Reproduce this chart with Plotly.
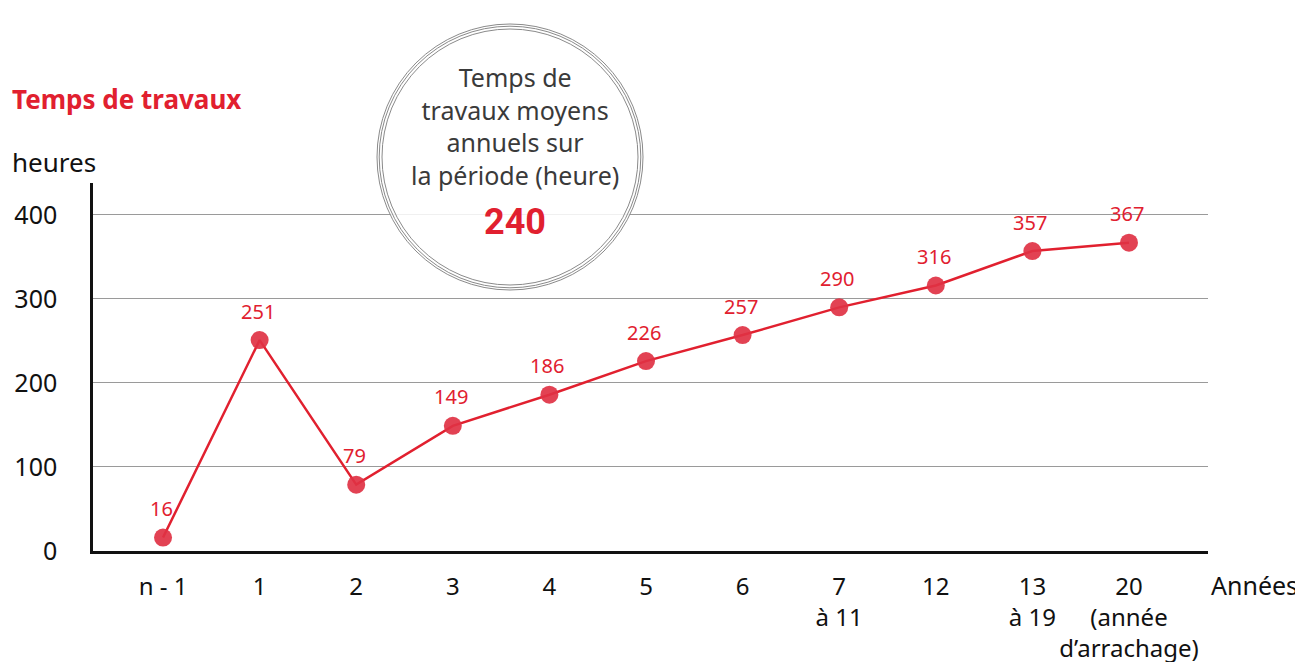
import plotly.graph_objects as go

categories = ["n - 1", "1", "2", "3", "4", "5", "6", "7<br>à 11", "12", "13<br>à 19", "20<br>(année<br>d’arrachage)"]
hours = [16, 251, 79, 149, 186, 226, 257, 290, 316, 357, 367]
y_ticks = [0, 100, 200, 300, 400]
average_hours = 240

RED = "#E1202F"
FONT = "Noto Sans"

OFF = 8  # page offset of the figure inside the browser window
L, R, T, B = 93 - OFF, 1208 - OFF, 183 - OFF, 551 - OFF
PW, PH = R - L, B - T


def px(x):
    return (x - OFF - L) / PW


def py(y):
    return (B - (y - OFF)) / PH


xpos = list(range(len(categories)))

fig = go.Figure()
fig.add_trace(go.Scatter(
    x=xpos, y=hours, mode="lines+markers",
    line=dict(color=RED, width=2.5),
    marker=dict(size=18, color="rgba(224,50,68,0.92)"),
    hoverinfo="skip", showlegend=False,
))

for xv, yv in zip(xpos, hours):
    fig.add_annotation(x=xv, y=yv, text=str(yv), showarrow=False,
                       yshift=29, xshift=-2,
                       font=dict(family=FONT, size=20, color=RED))

# Circle with average
for i, inset in enumerate([0, 2.2, 5]):
    fig.add_shape(type="circle", xref="paper", yref="paper",
                  x0=px(377 + inset), x1=px(643 - inset),
                  y0=py(290 - inset), y1=py(24 + inset),
                  line=dict(color="#8a8a8a", width=1),
                  fillcolor="rgba(255,255,255,0.85)" if i == 0 else "rgba(0,0,0,0)",
                  layer="above")

circle_text = "Temps de<br>travaux moyens<br>annuels sur<br>la période (heure)"
fig.add_annotation(xref="paper", yref="paper", x=px(515), y=py(126),
                   xanchor="center", yanchor="middle",
                   text=circle_text, showarrow=False,
                   font=dict(family=FONT, size=25, color="#3a3a3a"))
fig.add_annotation(xref="paper", yref="paper", x=px(515), y=py(222),
                   xanchor="center", yanchor="middle",
                   text="<b>%d</b>" % average_hours, showarrow=False,
                   font=dict(family="Liberation Sans Narrow, Roboto", size=36, color=RED))

fig.add_annotation(xref="paper", yref="paper", x=px(10), y=py(99),
                   xanchor="left", yanchor="middle", text="<b>Temps de travaux</b>", showarrow=False,
                   font=dict(family=FONT, size=26, color=RED))
fig.add_annotation(xref="paper", yref="paper", x=px(10), y=py(162),
                   xanchor="left", yanchor="middle", text="heures", showarrow=False,
                   font=dict(family=FONT, size=26, color="#111"))
fig.add_annotation(xref="paper", yref="paper", x=px(1300), y=py(585),
                   xanchor="right", yanchor="middle", text="Années", showarrow=False,
                   font=dict(family=FONT, size=25, color="#111"))

fig.update_layout(
    width=1303, height=662,
    margin=dict(l=L, r=1303 - R, t=T, b=662 - B, autoexpand=False),
    plot_bgcolor="white", paper_bgcolor="white",
    font=dict(family=FONT, size=25, color="#111"),
    xaxis=dict(
        range=[-0.725, 10.818], tickmode="array", tickvals=xpos, ticktext=categories,
        showgrid=False, zeroline=False, showline=True, linecolor="#111", linewidth=2.5,
        ticks="", tickangle=0, ticklabelstandoff=12,
        tickfont=dict(family=FONT, size=24, color="#111"),
        fixedrange=True, automargin=False,
    ),
    yaxis=dict(
        range=[0, 438], tickmode="array", tickvals=y_ticks,
        showgrid=True, gridcolor="#9a9a9a", gridwidth=1.2, zeroline=False,
        showline=True, linecolor="#111", linewidth=2.5, ticks="",
        ticklabelstandoff=28, tickfont=dict(family=FONT, size=25, color="#111"),
        fixedrange=True, automargin=False,
    ),
)

fig.write_html("out.html")
